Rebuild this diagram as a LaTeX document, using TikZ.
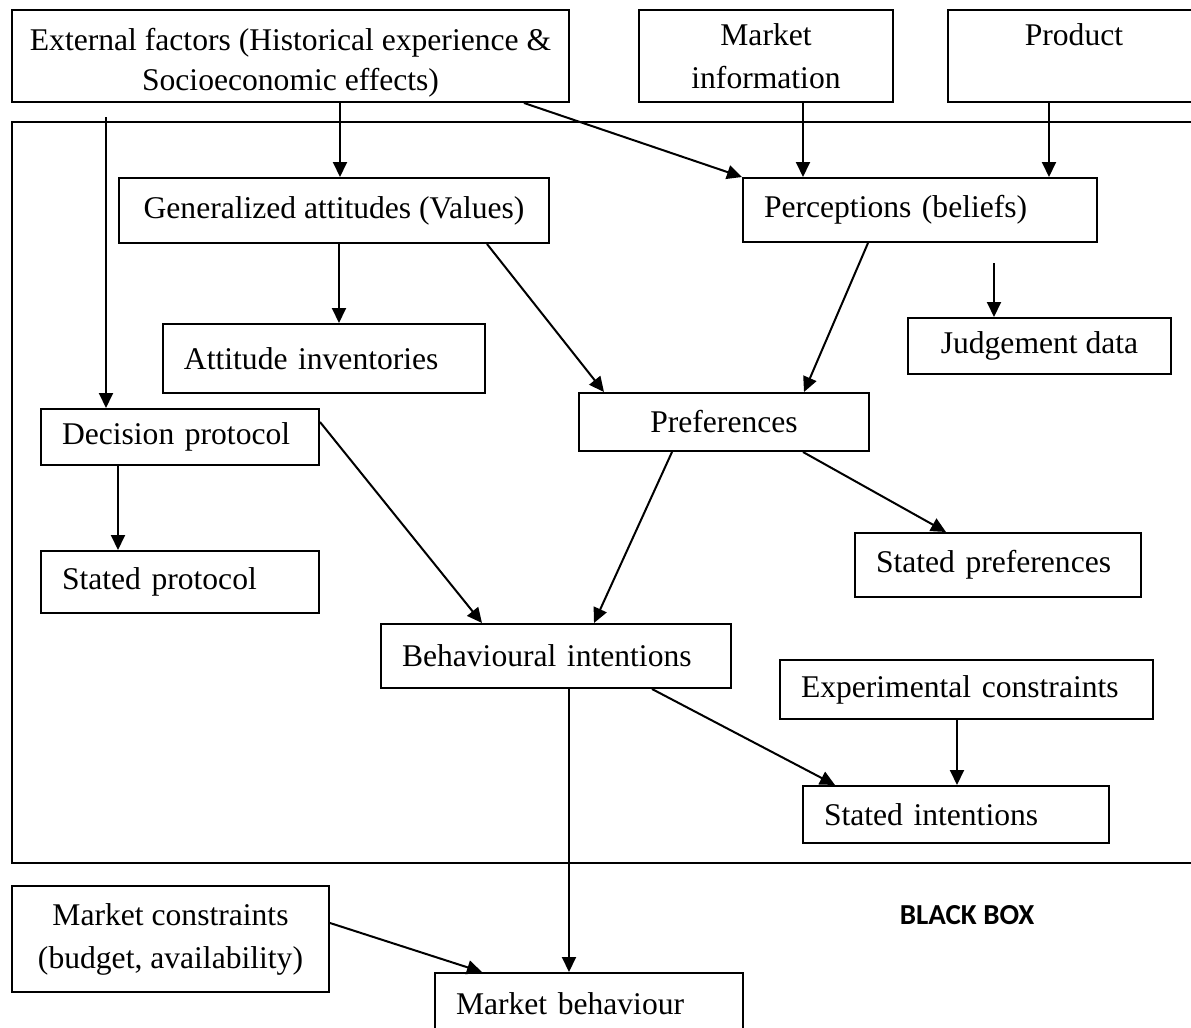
\documentclass[tikz,border=0pt]{standalone}
\usepackage{fontspec}
\setmainfont{Liberation Serif}
\newfontfamily\bbfont{Carlito}
\usetikzlibrary{arrows.meta,positioning,calc}
\newcommand\mainsz{\fontsize{15.8}{21.5}\selectfont}

\tikzset{
  box/.style={draw, line width=1pt, anchor=north west, inner sep=0pt,
              align=center, font=\mainsz},
  lbox/.style={box, align=left, inner xsep=10.5pt},
  arr/.style={line width=1pt, -{Triangle[length=7.5pt,width=7pt]}},
}

\begin{document}
\begin{tikzpicture}[x={(0.5pt,0)}, y={(0,-0.5pt)}]
        \useasboundingbox (0,0) rectangle (1191,1028);
        \clip (0,0) rectangle (1191,1028);

        % black box frame
        \draw[line width=1pt] (12,122) rectangle (1200,863);
        \node[font=\bbfont\bfseries\fontsize{14.5}{17}\selectfont] (bblabel) at (967,915) {BLACK BOX};

        % inputs
        \node[box, minimum width=278.5pt, minimum height=46pt,
              font=\fontsize{15.8}{20}\selectfont] (ext) at (11,9)
            {\rule{0pt}{18pt}External factors (Historical experience \&\\Socioeconomic effects)};
        \node[box, minimum width=127pt, minimum height=46pt] (mktinfo) at (638,9)
            {Market\\information};
        \node[box, minimum width=126pt, minimum height=46pt] (product) at (947,9)
            {Product\\\mbox{}};

        % inside the black box
        \node[box, minimum width=215pt, minimum height=32.5pt] (genatt) at (118,177)
            {Generalized attitudes (Values)};
        \node[lbox, text width=156pt, minimum height=32pt] (percep) at (742,177)
            {Perceptions (beliefs)};
        \node[lbox, text width=140pt, minimum height=34.5pt] (attinv) at (162,323)
            {Attitude inventories};
        \node[box, minimum width=131.5pt, minimum height=28pt] (judg) at (907,317)
            {Judgement data};
        \node[box, minimum width=145pt, minimum height=29pt] (prefs) at (578,392)
            {Preferences};
        \node[lbox, text width=118pt, minimum height=28pt] (decision) at (40,408)
            {Decision protocol};
        \node[lbox, text width=118pt, minimum height=31pt] (statedprot) at (40,550)
            {Stated protocol};
        \node[lbox, text width=122pt, minimum height=32pt] (statedpref) at (854,532)
            {Stated preferences};
        \node[lbox, text width=154pt, minimum height=32pt] (behav) at (380,623)
            {Behavioural intentions};
        \node[lbox, text width=165.5pt, minimum height=29.5pt] (expcon) at (779,659)
            {Experimental constraints};
        \node[lbox, text width=132pt, minimum height=28.5pt] (statedint) at (802,785)
            {Stated intentions};

        % outside, below
        \node[box, minimum width=158.5pt, minimum height=53pt] (mktcon) at (11,885)
            {Market constraints\\(budget, availability)};
        \node[lbox, text width=133pt, minimum height=31pt] (mktbeh) at (434,972)
            {Market behaviour};

        % free starts
        \coordinate (extdrop) at (106,117);
        \coordinate (judgdrop) at (994,263);

        % arrows
        \draw[arr] (extdrop) -- (extdrop |- decision.north);
        \draw[arr] ([xshift=3pt]genatt.north |- ext.south) -- ([xshift=3pt]genatt.north);
        \draw[arr] ([xshift=-23pt]ext.south east) -- (percep.north west);
        \draw[arr] ([xshift=18.5pt]mktinfo.south) -- ([xshift=18.5pt]mktinfo.south |- percep.north);
        \draw[arr] ([xshift=-12.5pt]product.south) -- ([xshift=-12.5pt]product.south |- percep.north);
        \draw[arr] ([xshift=2.5pt]genatt.south) -- ([xshift=2.5pt]genatt.south |- attinv.north);
        \draw[arr] ([xshift=-31.5pt]genatt.south east) -- ([xshift=13pt]prefs.north west);
        \draw[arr] ([xshift=63pt]percep.south west) -- ([xshift=-33pt]prefs.north east);
        \draw[arr] (judgdrop) -- (judgdrop |- judg.north);
        \draw[arr] ([xshift=39pt]decision.south west) -- ([xshift=39pt]decision.south west |- statedprot.north);
        \draw[arr] ([yshift=-7pt]decision.north east) -- ([xshift=51pt]behav.north west);
        \draw[arr] ([xshift=47pt]prefs.south west) -- ([xshift=107pt]behav.north west);
        \draw[arr] ([xshift=-33.5pt]prefs.south east) -- ([xshift=46pt]statedpref.north west);
        \draw[arr] ([xshift=6.5pt]behav.south) -- ([xshift=6.5pt]behav.south |- mktbeh.north);
        \draw[arr] ([xshift=136pt]behav.south west) -- ([xshift=16.5pt]statedint.north west);
        \draw[arr] ([xshift=-4.75pt]expcon.south) -- ([xshift=-4.75pt]expcon.south |- statedint.north);
        \draw[arr] ([yshift=8pt]mktcon.east) -- ([xshift=24pt]mktbeh.north west);
    \end{tikzpicture}
\end{document}
